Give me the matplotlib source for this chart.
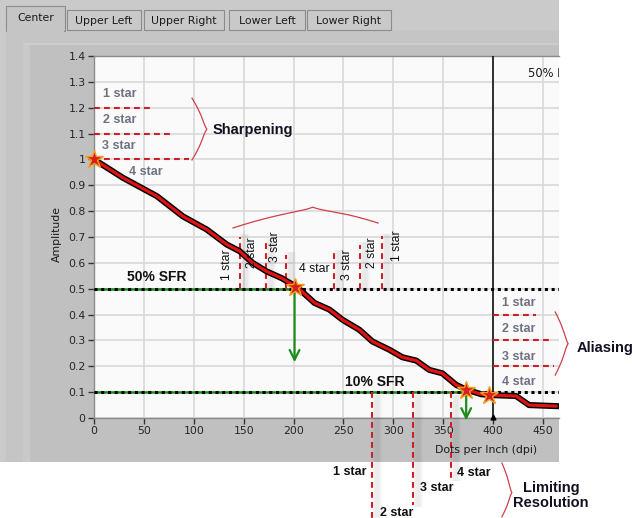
import matplotlib
matplotlib.use('Agg')
import matplotlib.pyplot as plt
import numpy as np
from matplotlib.patches import Rectangle
import matplotlib.patheffects as pe

# ---------------- data ----------------
dpi_x = [0, 29, 63, 89, 113, 133, 146, 159, 173, 188, 199, 203, 221, 236, 249, 266,
         279, 296, 309, 323, 336, 349, 363, 373, 388, 396, 423, 436, 463]
amp_y = [1.0, 0.929, 0.858, 0.780, 0.729, 0.671, 0.645, 0.600, 0.567, 0.541, 0.516,
         0.508, 0.445, 0.419, 0.380, 0.341, 0.296, 0.264, 0.235, 0.222, 0.186, 0.173,
         0.128, 0.110, 0.092, 0.089, 0.085, 0.050, 0.046]
star_x = [0, 201, 373, 396]
star_y = [1.0, 0.507, 0.108, 0.090]

sharp_levels = [1.2, 1.1, 1.0]
sharp_ends = [58, 77, 95]
sharp_labels = ['1 star', '2 star', '3 star', '4 star']

mid_left_x = [146, 172, 192]
mid_left_top = [0.70, 0.683, 0.632]
mid_right_x = [241, 266.5, 289]
mid_right_top = [0.638, 0.67, 0.703]

alias_x0 = 399.5
alias_levels = [0.4, 0.3, 0.2]
alias_ends = [443, 457, 461]

limit_x = [279, 320, 358]
limit_bottom = [-0.39, -0.336, -0.232]

cursor_x = 399.5
sfr50_x, sfr10_x = 201, 373

xticks = [0, 50, 100, 150, 200, 250, 300, 350, 400, 450]
yticks = [0, 0.1, 0.2, 0.3, 0.4, 0.5, 0.6, 0.7, 0.8, 0.9, 1.0, 1.1, 1.2, 1.3, 1.4]
ytick_labels = ['0', '0.1', '0.2', '0.3', '0.4', '0.5', '0.6', '0.7', '0.8', '0.9',
                '1', '1.1', '1.2', '1.3', '1.4']
tabs = ['Center', 'Upper Left', 'Upper Right', 'Lower Left', 'Lower Right']

# ---------------- figure ----------------
W, H = 632, 518
fig = plt.figure(figsize=(W / 100, H / 100), dpi=100)
fig.patch.set_facecolor('white')


def rect(x0, y0, x1, y1, color, z=-10, ec='none', lw=0):
    fig.add_artist(Rectangle((x0 / W, 1 - y1 / H), (x1 - x0) / W, (y1 - y0) / H,
                             transform=fig.transFigure, facecolor=color,
                             edgecolor=ec, lw=lw, zorder=z))


# LabVIEW-like panel
rect(0, 0, 559, 462, '#cacaca')
rect(6, 30, 559, 462, '#c5c5c5', z=-9)
rect(23, 43, 559, 462, '#c0c0c0', z=-8)
rect(23, 43, 30, 462, '#c9c9c9', z=-7)
rect(23, 43, 559, 45, '#cdcdcd', z=-7)

tab_pos = [(6, 65), (67, 141), (144, 224), (229, 305), (307, 391)]
for i, (t, (a, b)) in enumerate(zip(tabs, tab_pos)):
    if i == 0:
        rect(a, 6, b, 31, '#c5c5c5', z=-6, ec='#8c8c8c', lw=0.8)
        rect(a + 1, 28, b - 1, 33, '#c5c5c5', z=-5)
        fig.text((a + b) / 2 / W, 1 - 18 / H, t, ha='center', va='center',
                 fontsize=7.8, color='#1a1a1a', family='DejaVu Sans')
    else:
        rect(a, 10, b, 30, '#c9c9c9', z=-6, ec='#8c8c8c', lw=0.8)
        fig.text((a + b) / 2 / W, 1 - 20.5 / H, t, ha='center', va='center',
                 fontsize=7.8, color='#1a1a1a', family='DejaVu Sans')

ax = fig.add_axes([94 / W, 1 - 418 / H, (559 - 94) / W, (418 - 56) / H])
ax.set_facecolor('#fafafa')
ax.set_xlim(0, 466)
ax.set_ylim(0, 1.4)
ax.set_xticks(xticks)
ax.set_yticks(yticks)
ax.set_yticklabels(ytick_labels)
ax.grid(True, color='#d9d9d9', lw=1.2, zorder=0)
ax.set_axisbelow(True)
ax.tick_params(direction='out', length=4, width=1, color='#333333',
               labelsize=7.8, labelcolor='#262626', pad=2)
for lab in ax.get_xticklabels() + ax.get_yticklabels():
    lab.set_family('DejaVu Sans')
for s in ['right']:
    ax.spines[s].set_visible(False)
for s in ['left', 'bottom', 'top']:
    ax.spines[s].set_color('#8a8a8a')
    ax.spines[s].set_linewidth(1.0)

fig.text(57 / W, 1 - 234 / H, 'Amplitude', rotation=90, ha='center', va='center',
         fontsize=7.8, color='#1a1a1a', family='DejaVu Sans')
fig.text(486 / W, 1 - 450 / H, 'Dots per Inch (dpi)', ha='center', va='center',
         fontsize=7.8, color='#1a1a1a', family='DejaVu Sans')

RED = '#cc1f2a'
DASH = (0, (2.8, 2.0))
GRAY_LBL = '#6e7282'
BF = 'Liberation Sans'

# reference dotted lines
ax.plot([0, 466], [0.5, 0.5], color='black', lw=2.2, ls=(0, (1, 1.2)), zorder=5)
ax.plot([0, 466], [0.1, 0.1], color='black', lw=2.2, ls=(0, (1, 1.2)), zorder=5)
# green SFR lines
ax.plot([0, sfr50_x], [0.5, 0.5], color='#1c8c1c', lw=1.8, zorder=4)
ax.plot([0, sfr10_x], [0.1, 0.1], color='#1c8c1c', lw=1.8, zorder=4)

# cursor
ax.plot([cursor_x, cursor_x], [0, 1.4], color='black', lw=1.1, zorder=6)
ax.plot([cursor_x], [0.003], marker='^', ms=3.5, color='black', clip_on=False, zorder=7)
ax.text(435, 1.334, '50% Frequency', ha='left', va='center', fontsize=8.3,
        family='DejaVu Sans', color='#1a1a1a', clip_on=True)

# MTF curve
ax.plot(dpi_x, amp_y, color='#e01212', lw=2.3, zorder=8, solid_joinstyle='round',
        path_effects=[pe.Stroke(linewidth=4.4, foreground='black'), pe.Normal()])
ax.plot(star_x, star_y, ls='none', marker='*', ms=13.5, mfc='#d81e1e', mec='#f0a020',
        mew=1.0, zorder=10, clip_on=False)

# arrows
ax.annotate('', xy=(sfr50_x, 0.205), xytext=(sfr50_x, 0.507),
            arrowprops=dict(arrowstyle='->,head_length=0.7,head_width=0.35',
                            color='#1c8c1c', lw=1.6), zorder=9)
ax.annotate('', xy=(sfr10_x, -0.02), xytext=(sfr10_x, 0.108), annotation_clip=False,
            arrowprops=dict(arrowstyle='->,head_length=0.7,head_width=0.35',
                            color='#1c8c1c', lw=1.6), zorder=9)

ax.text(62.8, 0.546, '50% SFR', ha='center', va='center', fontsize=10,
        fontweight='bold', family=BF, color='#111111', zorder=9)
ax.text(281, 0.141, '10% SFR', ha='center', va='center', fontsize=10,
        fontweight='bold', family=BF, color='#111111', zorder=9)


def brace(p0, p1, tip_t, off, **kw):
    """curly brace from p0 to p1; tip at fraction tip_t, bulge vector off."""
    p0 = np.array(p0, float)
    p1 = np.array(p1, float)
    off = np.array(off, float)
    t = np.linspace(0, 1, 200)
    u = np.where(t <= tip_t, t / tip_t, (1 - t) / (1 - tip_t))
    f = 0.85 * (1 - (1 - u) ** 1.5) + 0.15 * u ** 10
    pts = p0[None, :] + t[:, None] * (p1 - p0)[None, :] + f[:, None] * off[None, :]
    ax.plot(pts[:, 0], pts[:, 1], clip_on=False, **kw)


def shadow(x, y0, y1):
    for w, a in [(7, 0.03), (4, 0.04)]:
        ax.plot([x + 5, x + 5], [y0, y1], color='black', alpha=a, lw=w,
                zorder=3, clip_on=False, solid_capstyle='butt')


# Sharpening
for lvl, end in zip(sharp_levels, sharp_ends):
    ax.plot([0, end], [lvl, lvl], color=RED, lw=1.5, ls=DASH, zorder=6, clip_on=False)
for lab, yy, xx in zip(sharp_labels, [1.253, 1.152, 1.053, 0.952], [26, 26, 25, 52]):
    ax.text(xx, yy, lab, ha='center', va='center', fontsize=9, fontweight='bold',
            family=BF, color=GRAY_LBL, zorder=9)
brace((98.2, 1.237), (98.2, 0.998), 0.5, (15, 0), color='#d0404a', lw=0.9, zorder=6)
ax.text(119, 1.114, 'Sharpening', ha='left', va='center', fontsize=10.5,
        fontweight='bold', family=BF, color='#111122', zorder=9)

# mid-range (SFR 50) lines
for xx, top in zip(mid_left_x + mid_right_x, mid_left_top + mid_right_top):
    shadow(xx, 0.49, top + 0.01)
    ax.plot([xx, xx], [0.5, top], color=RED, lw=1.5, ls=DASH, zorder=6)
for xx, yy, lab in zip([133.5, 158.7, 181.5, 253.4, 278.3, 303.4],
                       [0.592, 0.638, 0.662, 0.592, 0.640, 0.665],
                       ['1 star', '2 star', '3 star', '3 star', '2 star', '1 star']):
    ax.text(xx, yy, lab, rotation=90, ha='center', va='center', fontsize=8.8,
            family=BF, color='#111111', zorder=9)
ax.text(220.7, 0.576, '4 star', ha='center', va='center', fontsize=8.8,
        family=BF, color='#111111', zorder=9)
brace((139.3, 0.735), (284.7, 0.754), 0.55, (0, 0.07), color='#d0404a', lw=0.9, zorder=6)

# Aliasing
for lvl, end in zip(alias_levels, alias_ends):
    ax.plot([alias_x0, end], [lvl, lvl], color=RED, lw=1.5, ls=DASH, zorder=6)
for lab, yy in zip(sharp_labels, [0.444, 0.345, 0.236, 0.141]):
    ax.text(425.5, yy, lab, ha='center', va='center', fontsize=9, fontweight='bold',
            family=BF, color=GRAY_LBL, zorder=9)
brace((462.2, 0.410), (462.2, 0.166), 0.5, (13, 0), color='#d0404a', lw=0.9, zorder=6)
ax.text(483.2, 0.272, 'Aliasing', ha='left', va='center', fontsize=10.5,
        fontweight='bold', family=BF, color='#111122', zorder=9, clip_on=False)

# Limiting resolution
for xx, bot in zip(limit_x, limit_bottom):
    shadow(xx, 0.09, bot - 0.01)
    ax.plot([xx, xx], [0.1, bot], color=RED, lw=1.5, ls=DASH, zorder=6, clip_on=False)
for xx, yy, lab in zip([256.6, 303.5, 343.6, 380.5], [-0.208, -0.367, -0.270, -0.212],
                       ['1 star', '2 star', '3 star', '4 star']):
    ax.text(xx, yy, lab, ha='center', va='center', fontsize=9, fontweight='bold',
            family=BF, color='#111111', zorder=9, clip_on=False)
brace((408.8, -0.174), (408.8, -0.382), 0.55, (10, 0), color='#d0404a', lw=0.9, zorder=6)
ax.text(458, -0.300, 'Limiting\nResolution', ha='center', va='center', fontsize=10.5,
        fontweight='bold', family=BF, color='#111122', zorder=9, clip_on=False,
        linespacing=1.15)

fig.savefig('out.png', dpi=100)
